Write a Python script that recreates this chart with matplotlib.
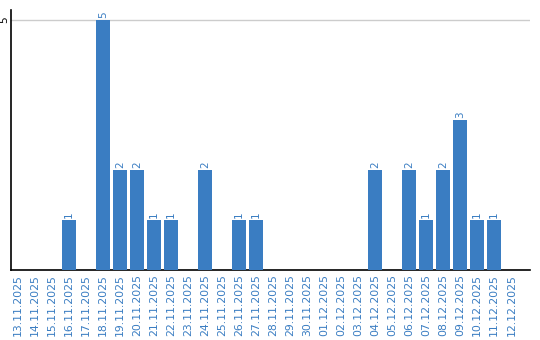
import matplotlib
matplotlib.use('Agg')
import matplotlib.pyplot as plt

# 날짜별 건수
dates = ['13.11.2025', '14.11.2025', '15.11.2025', '16.11.2025', '17.11.2025',
         '18.11.2025', '19.11.2025', '20.11.2025', '21.11.2025', '22.11.2025',
         '23.11.2025', '24.11.2025', '25.11.2025', '26.11.2025', '27.11.2025',
         '28.11.2025', '29.11.2025', '30.11.2025', '01.12.2025', '02.12.2025',
         '03.12.2025', '04.12.2025', '05.12.2025', '06.12.2025', '07.12.2025',
         '08.12.2025', '09.12.2025', '10.12.2025', '11.12.2025', '12.12.2025']
counts = [0, 0, 0, 1, 0, 5, 2, 2, 1, 1, 0, 2, 0, 1, 1,
          0, 0, 0, 0, 0, 0, 2, 0, 2, 1, 2, 3, 1, 1, 0]

blue = '#3a7dc2'

fig = plt.figure(figsize=(5.4, 3.4), dpi=100)
ax = fig.add_axes([11 / 540, 70 / 340, 519 / 540, 260 / 340])

x = list(range(len(dates)))
ax.bar(x, counts, width=0.82, color=blue, zorder=3)

for i, v in zip(x, counts):
    if v > 0:
        ax.text(i, v + 0.04, str(v), rotation=90, ha='center', va='bottom',
                color=blue, fontsize=7.5)

ax.set_xlim(-0.41, 30.1)
ax.set_ylim(0, 5.2)
ax.set_yticks([5])
ax.set_yticklabels(['5'], rotation=90, va='center', fontsize=7.5)
ax.yaxis.grid(True, color='#cccccc', linewidth=1, zorder=0)
ax.tick_params(axis='y', length=0, pad=1)

ax.set_xticks(x)
ax.set_xticklabels(dates, rotation=90, color=blue, fontsize=7.8)
ax.tick_params(axis='x', length=0, pad=3)

ax.spines['top'].set_visible(False)
ax.spines['right'].set_visible(False)
ax.spines['left'].set_linewidth(1.2)
ax.spines['bottom'].set_linewidth(1.2)

fig.savefig('out.png', dpi=100)
